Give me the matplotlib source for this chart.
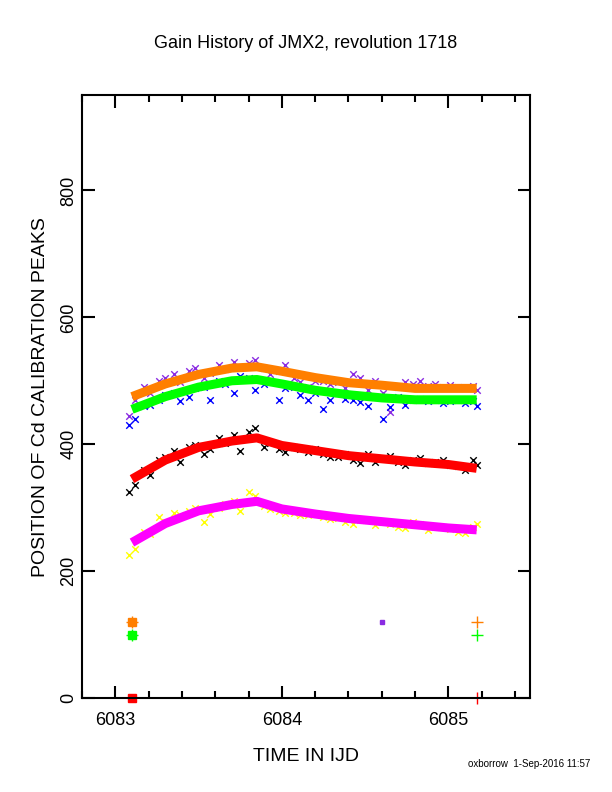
import matplotlib
matplotlib.use('Agg')
import matplotlib.pyplot as plt
from matplotlib.ticker import MultipleLocator

plt.rcParams['font.family'] = ['Liberation Sans', 'DejaVu Sans']

# fitted gain curves
curve_x = [6083.1, 6083.3, 6083.5, 6083.7, 6083.85, 6084.0, 6084.2, 6084.4, 6084.6, 6084.8, 6085.0, 6085.17]
orange_y = [475, 495, 510, 520, 522, 515, 505, 497, 493, 488, 488, 488]
green_y = [455, 475, 490, 500, 502, 495, 485, 478, 473, 470, 470, 470]
red_y = [345, 375, 395, 405, 410, 398, 390, 382, 377, 372, 368, 362]
magenta_y = [245, 275, 295, 305, 310, 298, 290, 283, 278, 273, 268, 265]

# measured peaks (two interleaved passes)
pts_x = [6083.08, 6083.17, 6083.26, 6083.35, 6083.44, 6083.53, 6083.62, 6083.71,
         6083.80, 6083.89, 6083.98, 6084.07, 6084.16, 6084.25, 6084.34, 6084.43,
         6084.52, 6084.61, 6084.70, 6084.79, 6084.88, 6084.97, 6085.06, 6085.15]
pts_x2 = [6083.12, 6083.21, 6083.30, 6083.39, 6083.48, 6083.57, 6083.66, 6083.75,
          6083.84, 6083.93, 6084.02, 6084.11, 6084.20, 6084.29, 6084.38, 6084.47,
          6084.56, 6084.65, 6084.74, 6084.83, 6084.92, 6085.01, 6085.10, 6085.17]
purple_y = [445, 490, 500, 510, 515, 505, 525, 530, 528, 520, 515, 505,
            490, 500, 498, 510, 485, 480, 490, 495, 492, 490, 490, 492]
purple_y2 = [470, 480, 505, 498, 520, 512, 518, 522, 532, 510, 525, 498,
             500, 495, 488, 505, 500, 450, 498, 500, 495, 493, 488, 485]
blue_y = [430, 460, 470, 480, 475, 490, 500, 480, 505, 495, 470, 490,
          470, 455, 480, 470, 460, 440, 475, 470, 468, 465, 470, 468]
blue_y2 = [440, 462, 478, 468, 488, 470, 495, 508, 485, 500, 488, 478,
           480, 470, 472, 466, 475, 458, 462, 472, 470, 468, 465, 460]
black_y = [325, 360, 375, 390, 395, 385, 410, 415, 420, 395, 393, 395,
           388, 385, 380, 375, 385, 378, 372, 375, 370, 375, 365, 375]
black_y2 = [335, 352, 380, 372, 398, 392, 402, 390, 425, 402, 388, 392,
            392, 380, 384, 370, 372, 382, 368, 378, 372, 368, 360, 368]
yellow_y = [225, 262, 285, 292, 295, 278, 300, 310, 325, 302, 295, 292,
            288, 285, 283, 275, 280, 277, 270, 278, 265, 270, 262, 270]
yellow_y2 = [235, 258, 278, 288, 300, 290, 305, 295, 318, 298, 292, 288,
             290, 282, 278, 280, 272, 275, 268, 275, 270, 266, 260, 275]

fig = plt.figure(figsize=(6.12, 7.92), dpi=100)
ax = fig.add_axes([0.134, 0.1187, 0.732, 0.761])

for xs, ys, c in [(pts_x, purple_y, '#8a2be2'), (pts_x2, purple_y2, '#8a2be2'),
                  (pts_x, blue_y, '#0000ff'), (pts_x2, blue_y2, '#0000ff'),
                  (pts_x, black_y, 'black'), (pts_x2, black_y2, 'black'),
                  (pts_x, yellow_y, '#ffff00'), (pts_x2, yellow_y2, '#ffff00')]:
    ax.scatter(xs, ys, marker='x', s=22, color=c, linewidths=1)

ax.plot(curve_x, orange_y, color='#ff7f00', lw=6.5, solid_capstyle='butt')
ax.plot(curve_x, green_y, color='#00ff00', lw=6.5, solid_capstyle='butt')
ax.plot(curve_x, red_y, color='#ff0000', lw=6.5, solid_capstyle='butt')
ax.plot(curve_x, magenta_y, color='#ff00ff', lw=6.5, solid_capstyle='butt')

# reference markers near the bottom
ax.plot([6083.1], [120], 's', color='#ff7f00', ms=6)
ax.plot([6083.1], [100], 's', color='#00ff00', ms=6)
ax.plot([6083.1], [0], 's', color='#ff0000', ms=6, clip_on=False)
ax.plot([6084.6], [120], 's', color='#8a2be2', ms=3)
ax.plot([6083.1, 6085.17], [120, 120], '+', color='#ff7f00', ms=8)
ax.plot([6083.1, 6085.17], [100, 100], '+', color='#00ff00', ms=8)
ax.plot([6085.17], [0], '|', color='#ff0000', ms=8, clip_on=False)

ax.set_xlim(6082.8, 6085.49)
ax.set_ylim(0, 950)
ax.xaxis.set_major_locator(MultipleLocator(1))
ax.xaxis.set_minor_locator(MultipleLocator(0.2))
ax.yaxis.set_major_locator(MultipleLocator(200))
ax.xaxis.get_major_formatter().set_useOffset(False)
ax.tick_params(which='both', direction='in', top=True, right=True, width=1.5, labelsize=13)
ax.tick_params(which='major', length=9)
ax.tick_params(which='minor', length=5)
ax.tick_params(axis='x', pad=10)
for s in ax.spines.values():
    s.set_linewidth(1.5)
for lab in ax.get_yticklabels():
    lab.set_rotation(90)
    lab.set_va('center')

ax.set_xlabel('TIME IN IJD', fontsize=14, labelpad=14)
ax.set_ylabel('POSITION OF Cd CALIBRATION PEAKS', fontsize=14, labelpad=8)
fig.text(0.5, 0.94, 'Gain History of JMX2, revolution 1718', ha='center', fontsize=13)
fig.text(0.965, 0.032, 'oxborrow  1-Sep-2016 11:57', ha='right', fontsize=7)

fig.savefig('out.png', dpi=100)
